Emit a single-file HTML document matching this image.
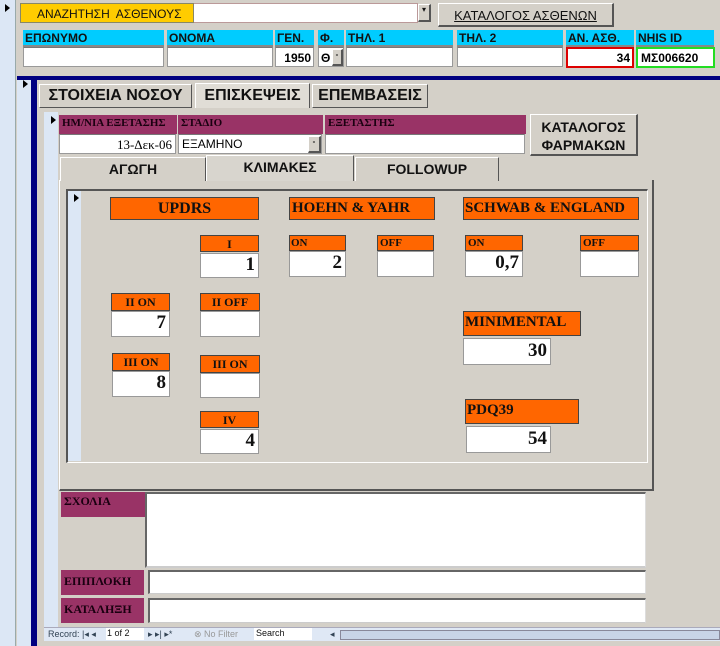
<!DOCTYPE html>
<html><head><meta charset="utf-8"><style>
*{margin:0;padding:0;box-sizing:border-box}
body{width:720px;height:646px;position:relative;overflow:hidden;background:#d4d0c8;font-family:"Liberation Sans","DejaVu Sans",sans-serif}
div{position:absolute}
.lb{background:#dce7f5}
.cy{background:#00ccff;font-size:12px;font-weight:bold;color:#111;padding:1px 2px;border-bottom:2px solid #888}
.wh{background:#fff;border:1px solid #999;border-top-color:#777}
.mr{background:#993366;color:#1a0010;font-family:"Liberation Serif",serif;font-weight:bold;font-size:11px;padding:2px 3px}
.tab{background:#d4d0c8;border:1px solid #fff;border-right-color:#555;border-bottom:none;font-weight:bold;text-align:center;color:#111}
.or{background:#ff6600;border:1px solid #444;font-family:"Liberation Serif",serif;font-weight:bold;color:#111}
.num{background:#fff;border:1px solid #999;font-family:"Liberation Serif",serif;font-weight:bold;font-size:19px;text-align:right;padding-right:3px;color:#111}
.btn{background:#d4d0c8;border:1px solid #fff;border-right:2px solid #555;border-bottom:2px solid #555;font-weight:bold;text-align:center;color:#111}
.arr{width:0;height:0;border-top:4px solid transparent;border-bottom:4px solid transparent;border-left:5px solid #000}
</style></head><body>
<div class="lb" style="left:0;top:0;width:16px;height:646px;border-right:1px solid #9aa"></div>
<div class="arr" style="left:5px;top:4px"></div>
<!-- header -->
<div style="left:20px;top:3px;width:398px;height:20px;background:#fff;border:1px solid #b99"></div>
<div style="left:20px;top:3px;width:174px;height:20px;background:#ffcc00;border:1px solid #886;font-size:12px;padding:3px 0 0 16px;color:#111">ΑΝΑΖΗΤΗΣΗ&nbsp; ΑΣΘΕΝΟΥΣ</div>
<div class="btn" style="left:418px;top:4px;width:13px;height:18px;font-size:8px">▾</div>
<div class="btn" style="left:438px;top:3px;width:176px;height:24px;font-size:13px;padding-top:4px;text-decoration:underline;font-weight:normal">ΚΑΤΑΛΟΓΟΣ ΑΣΘΕΝΩΝ</div>
<div class="cy" style="left:23px;top:30px;width:141px;height:17px">ΕΠΩΝΥΜΟ</div>
<div class="cy" style="left:167px;top:30px;width:106px;height:17px">ΟΝΟΜΑ</div>
<div class="cy" style="left:275px;top:30px;width:39px;height:17px">ΓΕΝ.</div>
<div class="cy" style="left:318px;top:30px;width:26px;height:17px">Φ.</div>
<div class="cy" style="left:346px;top:30px;width:107px;height:17px">ΤΗΛ. 1</div>
<div class="cy" style="left:457px;top:30px;width:106px;height:17px">ΤΗΛ. 2</div>
<div class="cy" style="left:566px;top:30px;width:68px;height:17px">ΑΝ. ΑΣΘ.</div>
<div class="cy" style="left:636px;top:30px;width:78px;height:17px">NHIS ID</div>
<div class="wh" style="left:23px;top:47px;width:141px;height:20px"></div>
<div class="wh" style="left:167px;top:47px;width:106px;height:20px"></div>
<div class="wh" style="left:275px;top:47px;width:39px;height:20px;font-size:12px;font-weight:bold;text-align:right;padding:3px 2px 0 0">1950</div>
<div class="wh" style="left:318px;top:47px;width:26px;height:20px;font-size:12px;font-weight:bold;padding:3px 0 0 2px">Θ</div>
<div class="btn" style="left:332px;top:49px;width:11px;height:17px;font-size:8px">-</div>
<div class="wh" style="left:346px;top:47px;width:107px;height:20px"></div>
<div class="wh" style="left:457px;top:47px;width:106px;height:20px"></div>
<div style="left:566px;top:47px;width:68px;height:21px;background:#fff;border:2px solid #dd0000;font-size:12px;font-weight:bold;text-align:right;padding:2px 2px 0 0">34</div>
<div style="left:636px;top:47px;width:79px;height:21px;background:#fff;border:2px solid #22dd22;font-size:12px;font-weight:bold;padding:2px 0 0 3px">ΜΣ006620</div>
<!-- navy frame -->
<div style="left:17px;top:76px;width:703px;height:4px;background:#000080"></div>
<div class="lb" style="left:17px;top:80px;width:14px;height:566px"></div>
<div class="arr" style="left:23px;top:80px"></div>
<div style="left:31px;top:76px;width:6px;height:570px;background:#000080"></div>
<!-- main tabs -->
<div class="tab" style="left:39px;top:84px;width:153px;height:24px;font-size:16px;padding-top:2px;border-bottom:1px solid #555">ΣΤΟΙΧΕΙΑ ΝΟΣΟΥ</div>
<div class="tab" style="left:195px;top:83px;width:115px;height:25px;font-size:16px;padding-top:3px;background:#e0ddd6">ΕΠΙΣΚΕΨΕΙΣ</div>
<div class="tab" style="left:312px;top:84px;width:116px;height:24px;font-size:16px;padding-top:2px;border-bottom:1px solid #555">ΕΠΕΜΒΑΣΕΙΣ</div>
<div class="lb" style="left:44px;top:112px;width:14px;height:515px"></div>
<div class="arr" style="left:51px;top:116px"></div>
<div class="mr" style="left:59px;top:115px;width:118px;height:19px">ΗΜ/ΝΙΑ ΕΞΕΤΑΣΗΣ</div>
<div class="mr" style="left:178px;top:115px;width:145px;height:19px">ΣΤΑΔΙΟ</div>
<div class="mr" style="left:325px;top:115px;width:201px;height:19px">ΕΞΕΤΑΣΤΗΣ</div>
<div class="wh" style="left:59px;top:134px;width:117px;height:20px;font-family:'Liberation Serif',serif;font-size:13px;text-align:right;padding:2px 3px 0 0">13-Δεκ-06</div>
<div class="wh" style="left:178px;top:134px;width:144px;height:20px;font-size:12px;padding:2px 0 0 3px">ΕΞΑΜΗΝΟ</div>
<div class="btn" style="left:308px;top:136px;width:13px;height:17px;font-size:8px">-</div>
<div class="wh" style="left:325px;top:134px;width:200px;height:20px"></div>
<div class="btn" style="left:530px;top:114px;width:108px;height:42px;font-size:14px;padding-top:3px;line-height:18px">ΚΑΤΑΛΟΓΟΣ<br>ΦΑΡΜΑΚΩΝ</div>
<!-- inner tabs -->
<div class="tab" style="left:60px;top:157px;width:146px;height:24px;font-size:14px;padding-top:3px">ΑΓΩΓΗ</div>
<div class="tab" style="left:206px;top:155px;width:148px;height:26px;font-size:14px;padding-top:3px;background:#d8d5ce">ΚΛΙΜΑΚΕΣ</div>
<div class="tab" style="left:355px;top:157px;width:144px;height:24px;font-size:14px;padding-top:3px">FOLLOWUP</div>
<div style="left:59px;top:180px;width:595px;height:311px;border:1px solid #fff;border-right:2px solid #555;border-bottom:2px solid #555;border-top:none"></div>
<div style="left:66px;top:189px;width:582px;height:274px;border:1px solid #fff;border-top:2px solid #555;border-left:2px solid #555"></div>
<div class="lb" style="left:68px;top:191px;width:13px;height:270px"></div>
<div class="arr" style="left:74px;top:194px"></div>
<!-- scales -->
<div class="or" style="left:110px;top:197px;width:149px;height:23px;font-size:16px;text-align:center;padding-top:2px">UPDRS</div>
<div class="or" style="left:289px;top:197px;width:146px;height:23px;font-size:15px;padding:2px 0 0 2px">HOEHN &amp; YAHR</div>
<div class="or" style="left:463px;top:197px;width:176px;height:23px;font-size:15px;padding:2px 0 0 1px;white-space:nowrap">SCHWAB &amp; ENGLAND</div>

<div class="or" style="left:200px;top:235px;width:59px;height:17px;font-size:12px;text-align:center;padding-top:1px">I</div>
<div class="num" style="left:200px;top:253px;width:59px;height:25px">1</div>
<div class="or" style="left:289px;top:235px;width:57px;height:16px;font-size:11px;padding:1px 0 0 1px">ON</div>
<div class="num" style="left:289px;top:251px;width:57px;height:26px">2</div>
<div class="or" style="left:377px;top:235px;width:57px;height:16px;font-size:11px;padding:1px 0 0 2px">OFF</div>
<div class="num" style="left:377px;top:251px;width:57px;height:26px"></div>
<div class="or" style="left:465px;top:235px;width:58px;height:16px;font-size:11px;padding:1px 0 0 2px">ON</div>
<div class="num" style="left:465px;top:251px;width:58px;height:26px">0,7</div>
<div class="or" style="left:580px;top:235px;width:59px;height:16px;font-size:11px;padding:1px 0 0 2px">OFF</div>
<div class="num" style="left:580px;top:251px;width:59px;height:26px"></div>

<div class="or" style="left:111px;top:293px;width:59px;height:18px;font-size:12px;text-align:center;padding-top:1px">II ON</div>
<div class="num" style="left:111px;top:311px;width:59px;height:26px">7</div>
<div class="or" style="left:200px;top:293px;width:60px;height:18px;font-size:12px;text-align:center;padding-top:1px">II OFF</div>
<div class="num" style="left:200px;top:311px;width:60px;height:26px"></div>

<div class="or" style="left:112px;top:353px;width:58px;height:18px;font-size:12px;text-align:center;padding-top:1px">III ON</div>
<div class="num" style="left:112px;top:371px;width:58px;height:26px">8</div>
<div class="or" style="left:200px;top:355px;width:60px;height:18px;font-size:12px;text-align:center;padding-top:1px">III ON</div>
<div class="num" style="left:200px;top:373px;width:60px;height:25px"></div>
<div class="or" style="left:200px;top:411px;width:59px;height:17px;font-size:12px;text-align:center;padding-top:1px">IV</div>
<div class="num" style="left:200px;top:429px;width:59px;height:25px">4</div>

<div class="or" style="left:463px;top:311px;width:118px;height:25px;font-size:15px;padding:2px 0 0 1px">MINIMENTAL</div>
<div class="num" style="left:463px;top:338px;width:88px;height:27px;padding-top:1px">30</div>
<div class="or" style="left:465px;top:399px;width:114px;height:25px;font-size:15px;padding:2px 0 0 1px">PDQ39</div>
<div class="num" style="left:466px;top:426px;width:85px;height:27px;padding-top:1px">54</div>
<!-- bottom -->
<div class="mr" style="left:61px;top:492px;width:84px;height:25px;font-size:12px">ΣΧΟΛΙΑ</div>
<div style="left:145px;top:492px;width:501px;height:76px;background:#fff;border:2px solid #666;border-right:1px solid #ddd;border-bottom:2px solid #ccc"></div>
<div class="mr" style="left:61px;top:570px;width:83px;height:25px;font-size:12px;padding-top:4px">ΕΠΙΠΛΟΚΗ</div>
<div style="left:148px;top:570px;width:498px;height:24px;background:#fff;border:2px solid #666;border-right:1px solid #ddd;border-bottom:1px solid #ccc"></div>
<div class="mr" style="left:61px;top:598px;width:83px;height:25px;font-size:12px;padding-top:4px">ΚΑΤΑΛΗΞΗ</div>
<div style="left:148px;top:598px;width:498px;height:25px;background:#fff;border:2px solid #666;border-right:1px solid #ddd;border-bottom:1px solid #ccc"></div>
<!-- nav bar -->
<div style="left:44px;top:627px;width:676px;height:14px;background:#dfe8f5;border-top:1px solid #aab;font-size:9px;color:#345;white-space:nowrap">
<span style="position:absolute;left:4px;top:1px">Record: |◂ ◂</span>
<span style="position:absolute;left:62px;top:0;width:38px;height:12px;background:#fff;padding-left:1px;color:#111">1 of 2</span>
<span style="position:absolute;left:104px;top:1px">▸ ▸| ▸*</span>
<span style="position:absolute;left:150px;top:1px;color:#999">⊗ No Filter</span>
<span style="position:absolute;left:210px;top:0;width:58px;height:12px;background:#fff;padding-left:2px;color:#111">Search</span>
<span style="position:absolute;left:286px;top:1px">◂</span>
<span style="position:absolute;left:296px;top:2px;width:380px;height:10px;background:#c8d4e6;border:1px solid #889"></span>
</div>
</body></html>
